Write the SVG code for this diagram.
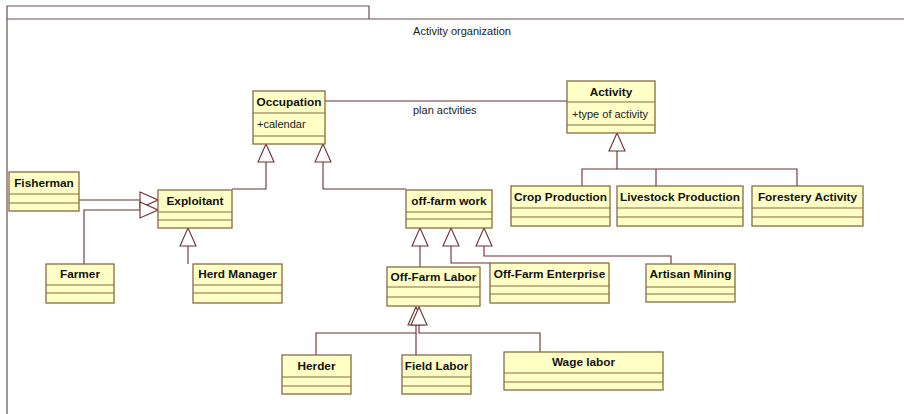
<svg xmlns="http://www.w3.org/2000/svg" width="904" height="414" viewBox="0 0 904 414">
<style>
.frame{fill:none;stroke:#6e5050;stroke-width:1.2}
.box{fill:#ffffc6;stroke:#8a6a42;stroke-width:1.3}
.sep{stroke:#8a6a42;stroke-width:1.2;fill:none}
.edge{fill:none;stroke:#6e2e2e;stroke-width:1.1}
.t{font-family:"Liberation Sans",Arial,sans-serif;font-size:11.8px;font-weight:bold;fill:#111;text-anchor:middle}
.a{font-family:"Liberation Sans",Arial,sans-serif;font-size:11px;fill:#222}
</style>
<defs>
<marker id="gen" markerUnits="userSpaceOnUse" markerWidth="20" markerHeight="18" viewBox="-1 -1 20 18" refX="18" refY="8" orient="auto">
<path d="M0,0 L18,8 L0,16 Z" fill="#fff" stroke="#6e2e2e" stroke-width="1.1"/>
</marker>
</defs>
<rect x="0" y="0" width="904" height="414" fill="#fff"/>
<g id="frame">
<path class="frame" d="M7,414 V6 H369 V19 M7,19 H904"/>
<text class="a" x="462" y="35" text-anchor="middle">Activity organization</text>
</g>
<g id="connectors">
<path class="edge" d="M325,101 H567"/>
<text class="a" x="413" y="114">plan actvities</text>
<path class="edge" d="M582,186 V169 H797 V186 M656,169 V186"/>
<path class="edge" d="M617,169 V133" marker-end="url(#gen)"/>
<path class="edge" d="M232,189 H266 V144" marker-end="url(#gen)"/>
<path class="edge" d="M406,189 H323 V144" marker-end="url(#gen)"/>
<path class="edge" d="M79,200 H158" marker-end="url(#gen)"/>
<path class="edge" d="M84,264 V210 H158" marker-end="url(#gen)"/>
<path class="edge" d="M188,264 V228" marker-end="url(#gen)"/>
<path class="edge" d="M420,267 V228" marker-end="url(#gen)"/>
<path class="edge" d="M490,263 H451 V228" marker-end="url(#gen)"/>
<path class="edge" d="M671,264 V256 H484 V228" marker-end="url(#gen)"/>
<path class="edge" d="M316,355 V333 H416 V307" marker-end="url(#gen)"/>
<path class="edge" d="M416,355 V333"/>
<path class="edge" d="M540,352 V333 H419 V307" marker-end="url(#gen)"/>
</g>
<g id="occupation">
<rect class="box" x="253" y="91" width="72" height="53"/>
<path class="sep" d="M253,113 H325 M253,136 H325"/>
<text class="t" x="289" y="106">Occupation</text>
<text class="a" x="257" y="128">+calendar</text>
</g>
<g id="activity">
<rect class="box" x="567" y="81" width="88" height="52"/>
<path class="sep" d="M567,102 H655 M567,125 H655"/>
<text class="t" x="611" y="96">Activity</text>
<text class="a" x="572" y="118">+type of activity</text>
</g>
<g id="crop-production">
<rect class="box" x="511" y="186" width="99" height="40"/>
<path class="sep" d="M511,208 H610 M511,217 H610"/>
<text class="t" x="560.5" y="201">Crop Production</text>
</g>
<g id="livestock-production">
<rect class="box" x="617" y="186" width="126" height="40"/>
<path class="sep" d="M617,208 H743 M617,217 H743"/>
<text class="t" x="680" y="201">Livestock Production</text>
</g>
<g id="forestery-activity">
<rect class="box" x="752" y="186" width="111" height="40"/>
<path class="sep" d="M752,208 H863 M752,217 H863"/>
<text class="t" x="807.5" y="201">Forestery Activity</text>
</g>
<g id="fisherman">
<rect class="box" x="9" y="172" width="70" height="39"/>
<path class="sep" d="M9,194 H79 M9,203 H79"/>
<text class="t" x="44" y="187">Fisherman</text>
</g>
<g id="exploitant">
<rect class="box" x="158" y="190" width="74" height="38"/>
<path class="sep" d="M158,212 H232 M158,220 H232"/>
<text class="t" x="195" y="205">Exploitant</text>
</g>
<g id="farmer">
<rect class="box" x="46" y="264" width="68" height="39"/>
<path class="sep" d="M46,285 H114 M46,293 H114"/>
<text class="t" x="80" y="278">Farmer</text>
</g>
<g id="herd-manager">
<rect class="box" x="193" y="264" width="89" height="39"/>
<path class="sep" d="M193,285 H282 M193,293 H282"/>
<text class="t" x="237.5" y="278">Herd Manager</text>
</g>
<g id="off-farm-work">
<rect class="box" x="406" y="190" width="86" height="38"/>
<path class="sep" d="M406,212 H492 M406,219 H492"/>
<text class="t" x="449" y="205">off-farm work</text>
</g>
<g id="off-farm-labor">
<rect class="box" x="387" y="267" width="93" height="39"/>
<path class="sep" d="M387,287 H480 M387,297 H480"/>
<text class="t" x="433.5" y="281">Off-Farm Labor</text>
</g>
<g id="off-farm-enterprise">
<rect class="box" x="490" y="263" width="119" height="40"/>
<path class="sep" d="M490,286 H609 M490,294 H609"/>
<text class="t" x="549.5" y="278">Off-Farm Enterprise</text>
</g>
<g id="artisan-mining">
<rect class="box" x="646" y="264" width="89" height="38"/>
<path class="sep" d="M646,287 H735 M646,294 H735"/>
<text class="t" x="690.5" y="278">Artisan Mining</text>
</g>
<g id="herder">
<rect class="box" x="282" y="355" width="69" height="39"/>
<path class="sep" d="M282,377 H351 M282,386 H351"/>
<text class="t" x="316.5" y="370">Herder</text>
</g>
<g id="field-labor">
<rect class="box" x="402" y="355" width="69" height="39"/>
<path class="sep" d="M402,377 H471 M402,386 H471"/>
<text class="t" x="436.5" y="370">Field Labor</text>
</g>
<g id="wage-labor">
<rect class="box" x="504" y="352" width="159" height="38"/>
<path class="sep" d="M504,373 H663 M504,382 H663"/>
<text class="t" x="583.5" y="366">Wage labor</text>
</g>
</svg>
